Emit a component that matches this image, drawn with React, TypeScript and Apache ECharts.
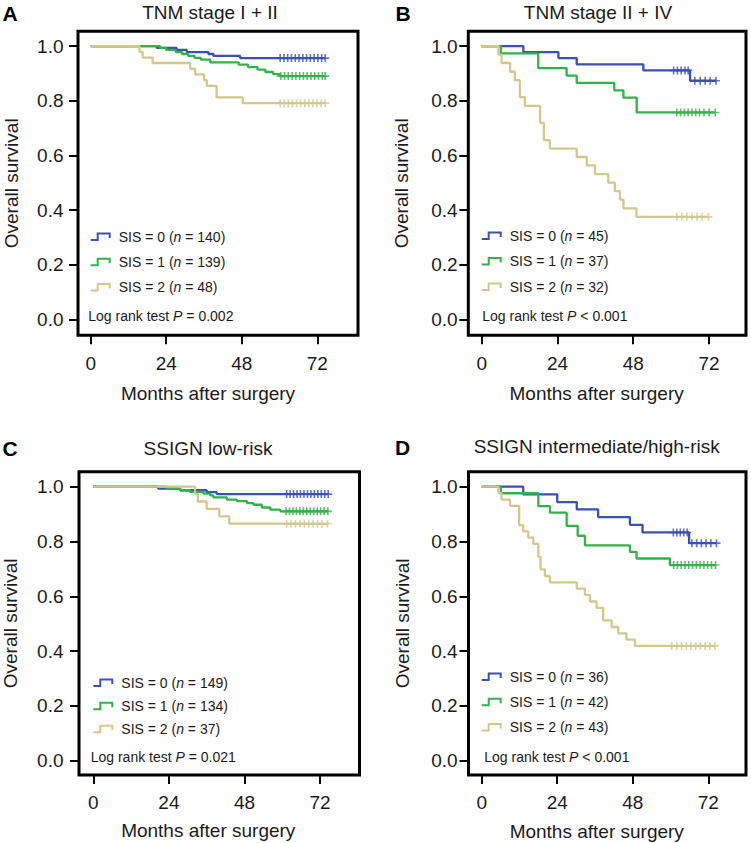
import React, { useEffect, useRef } from "react";
import * as echarts from "echarts";

// ---------- text / categories ----------
const panelLetters = ["A", "B", "C", "D"];
const panelTitles = ["TNM stage I + II", "TNM stage II + IV", "SSIGN low-risk", "SSIGN intermediate/high-risk"];
const groupLabels = ["SIS = 0", "SIS = 1", "SIS = 2"];
const groupSizesA = [140, 139, 48];
const groupSizesB = [45, 37, 32];
const groupSizesC = [149, 134, 37];
const groupSizesD = [36, 42, 43];
const pTexts = ["= 0.002", "< 0.001", "= 0.021", "< 0.001"];
const xTicks = [0, 24, 48, 72];
const yTicks = [0, 0.2, 0.4, 0.6, 0.8, 1.0];
const xAxisTitle = "Months after surgery";
const yAxisTitle = "Overall survival";

// ---------- Kaplan-Meier step data (time in months, survival) ----------
// Panel A
const aBlueT = [0, 21, 27.3, 30.5, 37.4, 39, 47.5];
const aBlueS = [1, 0.993, 0.986, 0.978, 0.971, 0.964, 0.956];
const aBlueCens = [60.2, 61.4, 62.6, 63.8, 65, 66.2, 67.4, 68.6, 69.8, 71, 72.2, 73.4, 74.5];
const aGreenT = [0, 22, 24, 27, 29, 31, 33, 35, 38, 47, 50, 53, 55.5, 58, 60];
const aGreenS = [1, 0.993, 0.986, 0.978, 0.971, 0.964, 0.957, 0.95, 0.94, 0.932, 0.923, 0.914, 0.905, 0.897, 0.89];
const aGreenCens = [60.4, 61.6, 62.8, 64, 65.2, 66.4, 67.6, 68.8, 70, 71.2, 72.4, 73.6, 74.5];
const aYellowT = [0, 15.5, 16.5, 19.7, 31.6, 33.2, 36, 36.9, 40, 48.3];
const aYellowS = [1, 0.979, 0.958, 0.938, 0.917, 0.896, 0.875, 0.854, 0.812, 0.791];
const aYellowCens = [60.2, 61.5, 62.8, 64.1, 65.4, 66.7, 68, 69.3, 70.6, 71.9, 73.2, 74.5];
// Panel B
const bBlueT = [0, 13.2, 24.3, 30.1, 51.2, 66];
const bBlueS = [1, 0.978, 0.956, 0.933, 0.911, 0.873];
const bBlueCens = [60.8, 62, 63.2, 64.4, 65.4, 67.5, 69.2, 70.8, 72.4, 74.2];
const bGreenT = [0, 6.1, 17.9, 26.9, 30.1, 42, 44.9, 49.1];
const bGreenS = [1, 0.973, 0.919, 0.892, 0.865, 0.838, 0.811, 0.757];
const bGreenCens = [61.8, 63, 64.2, 65.4, 66.6, 67.8, 69, 70.4, 72, 74];
const bYellowT = [0, 5.3, 6.3, 9, 10.5, 12.1, 13.7, 18.5, 19.7, 21.6, 30.1, 33.3, 35.9, 40.1, 42.2, 43.8, 44.9, 49];
const bYellowS = [1, 0.969, 0.938, 0.906, 0.875, 0.813, 0.781, 0.719, 0.656, 0.625, 0.594, 0.563, 0.531, 0.5, 0.469, 0.438, 0.406, 0.375];
const bYellowCens = [61.8, 63.4, 65, 66.6, 68.2, 69.8, 71.8];
// Panel C
const cBlueT = [0, 20.6, 27.6, 36, 39.2];
const cBlueS = [1, 0.993, 0.987, 0.98, 0.973];
const cBlueCens = [61.4, 62.5, 63.6, 64.7, 65.8, 66.9, 68, 69.1, 70.2, 71.3, 72.4, 73.5, 74.6];
const cGreenT = [0, 23.3, 27.6, 30.7, 35, 37.1, 38.1, 42.4, 45.6, 48.8, 50.9, 53.5, 56.2, 59.4];
const cGreenS = [1, 0.993, 0.987, 0.981, 0.975, 0.968, 0.961, 0.953, 0.947, 0.94, 0.934, 0.924, 0.916, 0.91];
const cGreenCens = [61.2, 62.3, 63.4, 64.5, 65.6, 66.7, 67.8, 68.9, 70, 71.1, 72.2, 73.3, 74.5];
const cYellowT = [0, 32.3, 33.2, 36, 40, 43.2];
const cYellowS = [1, 0.973, 0.946, 0.919, 0.892, 0.865];
const cYellowCens = [61.4, 62.8, 64.2, 65.6, 67, 68.4, 69.8, 71.2, 72.6, 74.4];
// Panel D
const dBlueT = [0, 13.2, 24, 30.2, 37, 47.1, 51.1, 65.9];
const dBlueS = [1, 0.972, 0.944, 0.917, 0.889, 0.861, 0.833, 0.794];
const dBlueCens = [60.9, 62, 63.1, 64.2, 65.3, 66.8, 68.3, 69.8, 71.3, 72.8, 74.6];
const dGreenT = [0, 6.1, 18, 21.7, 27, 30.5, 32.8, 47.1, 49.2, 59.8];
const dGreenS = [1, 0.976, 0.929, 0.905, 0.857, 0.821, 0.786, 0.762, 0.738, 0.714];
const dGreenCens = [61, 62.2, 63.4, 64.6, 65.8, 67, 68.2, 69.4, 70.6, 71.8, 73, 74.3];
const dYellowT = [0, 5.3, 6.3, 9, 11.9, 13.2, 14.8, 16.4, 18, 18.7, 20.1, 21.7, 30.2, 32.8, 34.4, 36.5, 38.6, 41.3, 43.4, 46, 48.7];
const dYellowS = [1, 0.977, 0.953, 0.93, 0.86, 0.837, 0.814, 0.791, 0.744, 0.698, 0.674, 0.651, 0.628, 0.605, 0.581, 0.558, 0.512, 0.488, 0.465, 0.442, 0.419];
const dYellowCens = [60.4, 62, 63.5, 65, 66.5, 68, 69.5, 71, 72.5, 74.1];

// ---------- assembly ----------
const panelGroups = [
  [[aBlueT, aBlueS, aBlueCens], [aGreenT, aGreenS, aGreenCens], [aYellowT, aYellowS, aYellowCens]],
  [[bBlueT, bBlueS, bBlueCens], [bGreenT, bGreenS, bGreenCens], [bYellowT, bYellowS, bYellowCens]],
  [[cBlueT, cBlueS, cBlueCens], [cGreenT, cGreenS, cGreenCens], [cYellowT, cYellowS, cYellowCens]],
  [[dBlueT, dBlueS, dBlueCens], [dGreenT, dGreenS, dGreenCens], [dYellowT, dYellowS, dYellowCens]],
];
const panelSizes = [groupSizesA, groupSizesB, groupSizesC, groupSizesD];

const colors = ["#3a50b2", "#33b24a", "#d2c88e"];
const FONT = "'Liberation Sans', Arial, Helvetica, sans-serif";
const TEXT = "#1a1a1a";

const layout = [
  { grid: { left: 78, top: 31.3, width: 280, height: 304 }, x: [-4.04, 84.94], y: [-0.0585, 1.054], yLM: 14.5, xLM: 19, xNG: 48.5, yNG: 57, nameShift: 20, titleX: 210, titleY: 12, letterX: 10, letterY: 13, legL: 90.7, legT: 228.7, legG: 9.3, pX: 88.3, pY: 315.7 },
  { grid: { left: 468.3, top: 31.3, width: 277.7, height: 304 }, x: [-4.24, 83.72], y: [-0.0585, 1.054], yLM: 10.6, xLM: 19, xNG: 48.5, yNG: 57, nameShift: 21, titleX: 598, titleY: 12, letterX: 403, letterY: 13, legL: 481.7, legT: 227.7, legG: 9.5, pX: 482.3, pY: 315.7 },
  { grid: { left: 79, top: 471.7, width: 280.5, height: 303.3 }, x: [-4.54, 84.53], y: [-0.0522, 1.0547], yLM: 15.5, xLM: 17.7, xNG: 46.2, yNG: 59, nameShift: 22, titleX: 208, titleY: 448, letterX: 10, letterY: 448.3, legL: 93.3, legT: 674.7, legG: 7.2, pX: 90.7, pY: 756.7 },
  { grid: { left: 468.5, top: 471.7, width: 277.5, height: 303.3 }, x: [-4.19, 83.98], y: [-0.0522, 1.0547], yLM: 10.8, xLM: 18, xNG: 47.2, yNG: 57, nameShift: 21, titleX: 596.7, titleY: 446.7, letterX: 402.5, letterY: 447.3, legL: 481.7, legT: 668.7, legG: 9.3, pX: 484.3, pY: 756.7 },
];

function survAt(T: number[], S: number[], t: number): number {
  let v = S[0];
  for (let i = 0; i < T.length; i++) if (T[i] <= t) v = S[i];
  return v;
}

const LEGEND_ICON = "path://M0,6.5 L6,6.5 L6,0 L20,0 L20,5.5 L18,5.5 L18,2 L8,2 L8,8.5 L0,8.5 Z";
const CENSOR_ICON = "path://M3.2,0 L4.8,0 L4.8,3.2 L8,3.2 L8,4.8 L4.8,4.8 L4.8,8 L3.2,8 L3.2,4.8 L0,4.8 L0,3.2 L3.2,3.2 Z";

function buildOption() {
  const grid: any[] = [];
  const xAxis: any[] = [];
  const yAxis: any[] = [];
  const series: any[] = [];
  const legend: any[] = [];
  const graphic: any[] = [];

  panelGroups.forEach((groups, p) => {
    const L = layout[p];
    grid.push({ ...L.grid, show: true, borderColor: "#000", borderWidth: 3, backgroundColor: "transparent", containLabel: false });
    xAxis.push({
      type: "value",
      gridIndex: p,
      min: L.x[0],
      max: L.x[1],
      position: "bottom",
      axisLine: { show: false, onZero: false },
      axisTick: { show: true, length: 9, customValues: xTicks, lineStyle: { color: "#000", width: 2 } },
      axisLabel: { customValues: xTicks, margin: L.xLM, fontSize: 19, color: TEXT, fontFamily: FONT },
      splitLine: { show: false },
      name: xAxisTitle,
      nameLocation: "middle",
      nameGap: L.xNG,
      nameTextStyle: { fontSize: 19, color: TEXT, fontFamily: FONT, padding: [0, L.nameShift, 0, 0] },
    });
    yAxis.push({
      type: "value",
      gridIndex: p,
      min: L.y[0],
      max: L.y[1],
      position: "left",
      axisLine: { show: false, onZero: false },
      axisTick: { show: true, length: 9, customValues: yTicks, lineStyle: { color: "#000", width: 2 } },
      axisLabel: { customValues: yTicks, margin: L.yLM, fontSize: 19, color: TEXT, fontFamily: FONT, formatter: (v: number) => v.toFixed(1) },
      splitLine: { show: false },
      name: yAxisTitle,
      nameLocation: "middle",
      nameGap: L.yNG,
      nameTextStyle: { fontSize: 19, color: TEXT, fontFamily: FONT },
    });

    const names: string[] = [];
    groups.forEach(([T, S, C], g) => {
      const name = `${groupLabels[g]} (n = ${panelSizes[p][g]})`;
      names.push(name);
      const lastT = Math.max(T[T.length - 1], C[C.length - 1]);
      const lineData = T.map((t, i) => [t, S[i]]);
      lineData.push([lastT, S[S.length - 1]]);
      series.push({
        name,
        type: "line",
        xAxisIndex: p,
        yAxisIndex: p,
        step: "end",
        symbol: "none",
        data: lineData,
        lineStyle: { color: colors[g], width: 2.3 },
        itemStyle: { color: colors[g] },
        silent: true,
      });
      series.push({
        name: `${name} censored`,
        type: "scatter",
        xAxisIndex: p,
        yAxisIndex: p,
        symbol: CENSOR_ICON,
        symbolSize: 8,
        data: C.map((t) => [t, survAt(T, S, t)]),
        itemStyle: { color: colors[g] },
        silent: true,
      });
    });

    legend.push({
      data: names,
      orient: "vertical",
      left: L.legL,
      top: L.legT,
      padding: 0,
      itemGap: L.legG,
      itemWidth: 20,
      itemHeight: 8.5,
      icon: LEGEND_ICON,
      selectedMode: false,
      itemStyle: { borderWidth: 0 },
      formatter: (nm: string) => nm.replace("(n =", "({i|n} ="),
      textStyle: {
        fontSize: 14,
        lineHeight: 16,
        color: TEXT,
        fontFamily: FONT,
        padding: [0, 0, 0, 3],
        rich: { i: { fontStyle: "italic", fontSize: 14, fontFamily: FONT, color: TEXT } },
      },
    });

    graphic.push({
      type: "text",
      x: L.pX,
      y: L.pY,
      style: {
        text: `Log rank test {i|P} ${pTexts[p]}`,
        font: `14px ${FONT}`,
        fill: TEXT,
        verticalAlign: "middle",
        align: "left",
        rich: { i: { fontStyle: "italic", fontSize: 14, fontFamily: FONT, fill: TEXT } },
      },
    });
    graphic.push({
      type: "text",
      x: L.titleX,
      y: L.titleY,
      style: { text: panelTitles[p], font: `19px ${FONT}`, fill: TEXT, align: "center", verticalAlign: "middle" },
    });
    graphic.push({
      type: "text",
      x: L.letterX,
      y: L.letterY,
      style: { text: panelLetters[p], font: `bold 21px ${FONT}`, fill: "#000", align: "center", verticalAlign: "middle" },
    });
  });

  return {
    animation: false,
    backgroundColor: "#ffffff",
    grid,
    xAxis,
    yAxis,
    series,
    legend,
    graphic,
  };
}

export default function App() {
  const ref = useRef<HTMLDivElement>(null);
  useEffect(() => {
    if (!ref.current) return;
    const chart = echarts.init(ref.current, null, { renderer: "svg" });
    chart.setOption(buildOption() as any);
    return () => chart.dispose();
  }, []);
  return (
    <div
      ref={ref}
      style={{ position: "absolute", left: 0, top: 0, width: 751, height: 843, background: "#fff" }}
    />
  );
}
